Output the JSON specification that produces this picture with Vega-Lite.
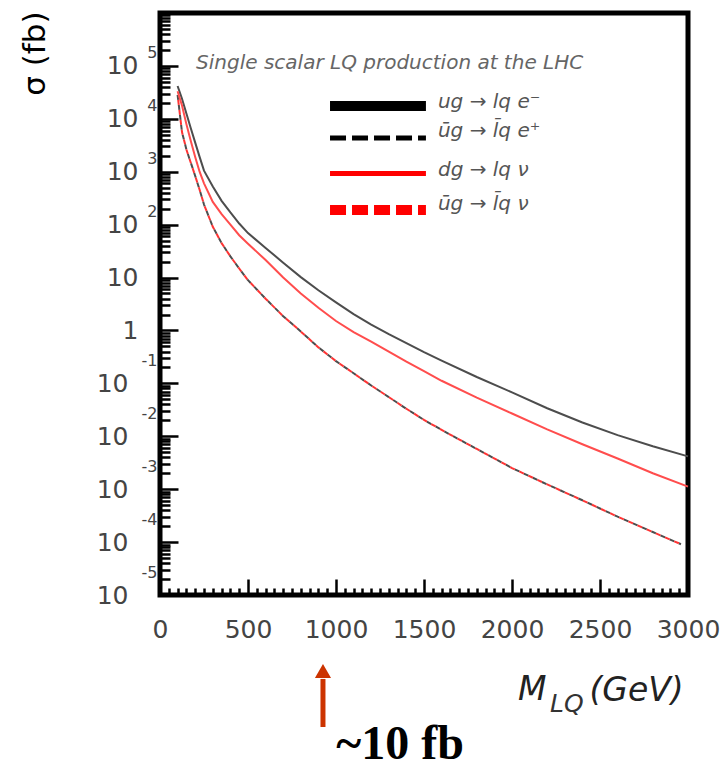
{
  "$schema": "https://vega.github.io/schema/vega-lite/v6.json",
  "width": 528,
  "height": 582,
  "autosize": {"type": "none"},
  "padding": {"left": 160, "top": 13, "right": 40, "bottom": 175},
  "background": "white",
  "config": {
    "font": "DejaVu Sans",
    "view": {"stroke": "black", "strokeWidth": 5},
    "axis": {
      "domain": false,
      "grid": false,
      "tickColor": "black",
      "tickWidth": 2.5,
      "labelFont": "DejaVu Sans",
      "labelFontSize": 25,
      "labelColor": "#444",
      "labelOverlap": false,
      "labelFlush": false,
      "labelBound": false
    }
  },
  "datasets": {
    "curves": [
      {"series": "bs", "mass": 100, "xsec": 41700},
      {"series": "bs", "mass": 125, "xsec": 24000},
      {"series": "bs", "mass": 150, "xsec": 12600},
      {"series": "bs", "mass": 175, "xsec": 6610},
      {"series": "bs", "mass": 200, "xsec": 3550},
      {"series": "bs", "mass": 225, "xsec": 1905},
      {"series": "bs", "mass": 250, "xsec": 1047},
      {"series": "bs", "mass": 300, "xsec": 525},
      {"series": "bs", "mass": 350, "xsec": 282},
      {"series": "bs", "mass": 400, "xsec": 170},
      {"series": "bs", "mass": 450, "xsec": 105},
      {"series": "bs", "mass": 500, "xsec": 69.2},
      {"series": "bs", "mass": 600, "xsec": 36.3},
      {"series": "bs", "mass": 700, "xsec": 19.1},
      {"series": "bs", "mass": 800, "xsec": 10.2},
      {"series": "bs", "mass": 900, "xsec": 5.75},
      {"series": "bs", "mass": 1000, "xsec": 3.39},
      {"series": "bs", "mass": 1100, "xsec": 2.04},
      {"series": "bs", "mass": 1200, "xsec": 1.29},
      {"series": "bs", "mass": 1300, "xsec": 0.851},
      {"series": "bs", "mass": 1400, "xsec": 0.575},
      {"series": "bs", "mass": 1500, "xsec": 0.389},
      {"series": "bs", "mass": 1600, "xsec": 0.269},
      {"series": "bs", "mass": 1800, "xsec": 0.132},
      {"series": "bs", "mass": 2000, "xsec": 0.0676},
      {"series": "bs", "mass": 2200, "xsec": 0.0339},
      {"series": "bs", "mass": 2400, "xsec": 0.0182},
      {"series": "bs", "mass": 2600, "xsec": 0.0105},
      {"series": "bs", "mass": 2800, "xsec": 0.00646},
      {"series": "bs", "mass": 3000, "xsec": 0.00417},

      {"series": "rs", "mass": 100, "xsec": 33100},
      {"series": "rs", "mass": 125, "xsec": 17800},
      {"series": "rs", "mass": 150, "xsec": 7940},
      {"series": "rs", "mass": 175, "xsec": 3800},
      {"series": "rs", "mass": 200, "xsec": 1905},
      {"series": "rs", "mass": 225, "xsec": 1000},
      {"series": "rs", "mass": 250, "xsec": 603},
      {"series": "rs", "mass": 300, "xsec": 269},
      {"series": "rs", "mass": 350, "xsec": 158},
      {"series": "rs", "mass": 400, "xsec": 100},
      {"series": "rs", "mass": 450, "xsec": 63.1},
      {"series": "rs", "mass": 500, "xsec": 43.7},
      {"series": "rs", "mass": 600, "xsec": 21.4},
      {"series": "rs", "mass": 700, "xsec": 10.0},
      {"series": "rs", "mass": 800, "xsec": 5.01},
      {"series": "rs", "mass": 900, "xsec": 2.69},
      {"series": "rs", "mass": 1000, "xsec": 1.51},
      {"series": "rs", "mass": 1100, "xsec": 0.933},
      {"series": "rs", "mass": 1200, "xsec": 0.617},
      {"series": "rs", "mass": 1300, "xsec": 0.398},
      {"series": "rs", "mass": 1400, "xsec": 0.257},
      {"series": "rs", "mass": 1500, "xsec": 0.170},
      {"series": "rs", "mass": 1600, "xsec": 0.112},
      {"series": "rs", "mass": 1800, "xsec": 0.0537},
      {"series": "rs", "mass": 2000, "xsec": 0.0269},
      {"series": "rs", "mass": 2200, "xsec": 0.0135},
      {"series": "rs", "mass": 2400, "xsec": 0.00708},
      {"series": "rs", "mass": 2600, "xsec": 0.00380},
      {"series": "rs", "mass": 2800, "xsec": 0.00200},
      {"series": "rs", "mass": 3000, "xsec": 0.00112},

      {"series": "bd", "mass": 100, "xsec": 28200},
      {"series": "bd", "mass": 125, "xsec": 5620},
      {"series": "bd", "mass": 150, "xsec": 2630},
      {"series": "bd", "mass": 175, "xsec": 1480},
      {"series": "bd", "mass": 200, "xsec": 832},
      {"series": "bd", "mass": 225, "xsec": 457},
      {"series": "bd", "mass": 250, "xsec": 240},
      {"series": "bd", "mass": 300, "xsec": 91.2},
      {"series": "bd", "mass": 350, "xsec": 44.7},
      {"series": "bd", "mass": 400, "xsec": 25.1},
      {"series": "bd", "mass": 450, "xsec": 14.8},
      {"series": "bd", "mass": 500, "xsec": 8.91},
      {"series": "bd", "mass": 600, "xsec": 3.98},
      {"series": "bd", "mass": 700, "xsec": 1.86},
      {"series": "bd", "mass": 800, "xsec": 0.955},
      {"series": "bd", "mass": 900, "xsec": 0.479},
      {"series": "bd", "mass": 1000, "xsec": 0.263},
      {"series": "bd", "mass": 1100, "xsec": 0.155},
      {"series": "bd", "mass": 1200, "xsec": 0.0912},
      {"series": "bd", "mass": 1300, "xsec": 0.0550},
      {"series": "bd", "mass": 1400, "xsec": 0.0331},
      {"series": "bd", "mass": 1500, "xsec": 0.0204},
      {"series": "bd", "mass": 1600, "xsec": 0.0132},
      {"series": "bd", "mass": 1800, "xsec": 0.00575},
      {"series": "bd", "mass": 2000, "xsec": 0.00251},
      {"series": "bd", "mass": 2200, "xsec": 0.00123},
      {"series": "bd", "mass": 2400, "xsec": 0.000617},
      {"series": "bd", "mass": 2600, "xsec": 0.000302},
      {"series": "bd", "mass": 2800, "xsec": 0.000155},
      {"series": "bd", "mass": 2960, "xsec": 0.0000912},

      {"series": "rd", "mass": 100, "xsec": 28200},
      {"series": "rd", "mass": 125, "xsec": 5620},
      {"series": "rd", "mass": 150, "xsec": 2630},
      {"series": "rd", "mass": 175, "xsec": 1480},
      {"series": "rd", "mass": 200, "xsec": 832},
      {"series": "rd", "mass": 225, "xsec": 457},
      {"series": "rd", "mass": 250, "xsec": 240},
      {"series": "rd", "mass": 300, "xsec": 91.2},
      {"series": "rd", "mass": 350, "xsec": 44.7},
      {"series": "rd", "mass": 400, "xsec": 25.1},
      {"series": "rd", "mass": 450, "xsec": 14.8},
      {"series": "rd", "mass": 500, "xsec": 8.91},
      {"series": "rd", "mass": 600, "xsec": 3.98},
      {"series": "rd", "mass": 700, "xsec": 1.86},
      {"series": "rd", "mass": 800, "xsec": 0.955},
      {"series": "rd", "mass": 900, "xsec": 0.479},
      {"series": "rd", "mass": 1000, "xsec": 0.263},
      {"series": "rd", "mass": 1100, "xsec": 0.155},
      {"series": "rd", "mass": 1200, "xsec": 0.0912},
      {"series": "rd", "mass": 1300, "xsec": 0.0550},
      {"series": "rd", "mass": 1400, "xsec": 0.0331},
      {"series": "rd", "mass": 1500, "xsec": 0.0204},
      {"series": "rd", "mass": 1600, "xsec": 0.0132},
      {"series": "rd", "mass": 1800, "xsec": 0.00575},
      {"series": "rd", "mass": 2000, "xsec": 0.00251},
      {"series": "rd", "mass": 2200, "xsec": 0.00123},
      {"series": "rd", "mass": 2400, "xsec": 0.000617},
      {"series": "rd", "mass": 2600, "xsec": 0.000302},
      {"series": "rd", "mass": 2800, "xsec": 0.000155},
      {"series": "rd", "mass": 2960, "xsec": 0.0000912}
    ],
    "legend": [
      {"series": "bs", "label": "ug → lq e⁻", "m0": 966, "m1": 1511, "yline": 17500, "ytext": 20800},
      {"series": "bd", "label": "ūg → l̄q e⁺", "m0": 966, "m1": 1511, "yline": 4340, "ytext": 5890},
      {"series": "rs", "label": "dg → lq ν", "m0": 966, "m1": 1511, "yline": 927, "ytext": 1079},
      {"series": "rd", "label": "ūg → l̄q ν", "m0": 966, "m1": 1511, "yline": 189, "ytext": 245}
    ],
    "notes": [
      {"kind": "header", "text": "Single scalar LQ production at the LHC", "mass": 205, "xsec": 113500},
      {"kind": "xtitle", "text": "M", "mass": 2034, "xsec": 1.6e-7},
      {"kind": "xtitle", "text": "(GeV)", "mass": 2440, "xsec": 1.53e-7},
      {"kind": "xsub", "text": "LQ", "mass": 2216, "xsec": 8.7e-8},
      {"kind": "lumi", "text": "~10 fb", "mass": 1364, "xsec": 1.45e-8}
    ],
    "arrow": [
      {"mass": 926, "tail": 3.2e-8, "head": 2.59e-7, "tip": 3.66e-7}
    ]
  },
  "resolve": {"axis": {"x": "independent", "y": "independent"}},
  "layer": [
    {
      "data": {"name": "curves"},
      "transform": [{"filter": "datum.series === 'bs'"}],
      "mark": {"type": "line", "color": "#4d4d4d", "strokeWidth": 2},
      "encoding": {
        "x": {
          "field": "mass", "type": "quantitative",
          "scale": {"domain": [0, 3000], "nice": false, "zero": false},
          "axis": {
            "orient": "bottom",
            "title": null,
            "values": [0,50,100,150,200,250,300,350,400,450,500,550,600,650,700,750,800,850,900,950,1000,1050,1100,1150,1200,1250,1300,1350,1400,1450,1500,1550,1600,1650,1700,1750,1800,1850,1900,1950,2000,2050,2100,2150,2200,2250,2300,2350,2400,2450,2500,2550,2600,2650,2700,2750,2800,2850,2900,2950,3000],
            "format": "d",
            "labelExpr": "datum.value % 500 === 0 ? datum.label : ''",
            "tickSize": {"condition": {"test": "datum.value % 500 === 0", "value": -16}, "value": -7},
            "labelPadding": 38
          }
        },
        "y": {
          "field": "xsec", "type": "quantitative",
          "scale": {"type": "log", "domain": [1e-5, 1e6], "nice": false},
          "axis": {
            "orient": "left",
            "title": "σ (fb)",
            "titleX": -125,
            "titleY": -2,
            "titleAngle": -90,
            "titleAlign": "right",
            "titleBaseline": "middle",
            "titleFont": "DejaVu Sans",
            "titleFontSize": 31,
            "titleFontWeight": "normal",
            "titleColor": "black",
            "values": [1e-5,2e-5,3e-5,4e-5,5e-5,6e-5,7e-5,8e-5,9e-5,1e-4,2e-4,3e-4,4e-4,5e-4,6e-4,7e-4,8e-4,9e-4,1e-3,2e-3,3e-3,4e-3,5e-3,6e-3,7e-3,8e-3,9e-3,0.01,0.02,0.03,0.04,0.05,0.06,0.07,0.08,0.09,0.1,0.2,0.3,0.4,0.5,0.6,0.7,0.8,0.9,1,2,3,4,5,6,7,8,9,10,20,30,40,50,60,70,80,90,100,200,300,400,500,600,700,800,900,1000,2000,3000,4000,5000,6000,7000,8000,9000,1e4,2e4,3e4,4e4,5e4,6e4,7e4,8e4,9e4,1e5,2e5,3e5,4e5,5e5,6e5,7e5,8e5,9e5,1e6],
            "labelExpr": "abs(log(datum.value)/LN10 - round(log(datum.value)/LN10)) < 0.01 ? (round(log(datum.value)/LN10) == 0 ? '1' : (round(log(datum.value)/LN10) > 5 ? '' : '10')) : ''",
            "tickSize": {"condition": {"test": "abs(log(datum.value)/LN10 - round(log(datum.value)/LN10)) < 0.01", "value": -18}, "value": -10},
            "labelPadding": {"condition": {"test": "datum.value < 0.5", "value": 50}, "value": 40}
          }
        }
      }
    },
    {
      "data": {"name": "curves"},
      "transform": [{"filter": "datum.series === 'bd'"}],
      "mark": {"type": "line", "color": "#4d4d4d", "strokeWidth": 2, "strokeDash": [5, 5]},
      "encoding": {
        "x": {"field": "mass", "type": "quantitative", "scale": {"domain": [0, 3000], "nice": false, "zero": false}, "axis": null},
        "y": {"field": "xsec", "type": "quantitative", "scale": {"type": "log", "domain": [1e-5, 1e6], "nice": false}, "axis": null}
      }
    },
    {
      "data": {"name": "curves"},
      "transform": [{"filter": "datum.series === 'rs'"}],
      "mark": {"type": "line", "color": "#ff4d4d", "strokeWidth": 2},
      "encoding": {
        "x": {"field": "mass", "type": "quantitative", "scale": {"domain": [0, 3000], "nice": false, "zero": false}, "axis": null},
        "y": {"field": "xsec", "type": "quantitative", "scale": {"type": "log", "domain": [1e-5, 1e6], "nice": false}, "axis": null}
      }
    },
    {
      "data": {"name": "curves"},
      "transform": [{"filter": "datum.series === 'rd'"}],
      "mark": {"type": "line", "color": "#ff3333", "strokeWidth": 2, "strokeDash": [5, 5], "strokeDashOffset": 5},
      "encoding": {
        "x": {"field": "mass", "type": "quantitative", "scale": {"domain": [0, 3000], "nice": false, "zero": false}, "axis": null},
        "y": {
          "field": "xsec", "type": "quantitative",
          "scale": {"type": "log", "domain": [1e-5, 1e6], "nice": false},
          "axis": {
            "orient": "left",
            "title": null,
            "values": [1e-5, 1e-4, 1e-3, 0.01, 0.1, 100, 1000, 1e4, 1e5],
            "labelExpr": "'' + round(log(datum.value)/LN10)",
            "ticks": false,
            "labelPadding": 3,
            "labelOffset": {"condition": {"test": "datum.value < 0.5", "value": -23}, "value": -13},
            "labelFontSize": 16
          }
        }
      }
    },
    {
      "data": {"name": "legend"},
      "transform": [{"filter": "datum.series === 'bs'"}],
      "mark": {"type": "rule", "color": "black", "strokeWidth": 10},
      "encoding": {
        "x": {"field": "m0", "type": "quantitative", "scale": {"domain": [0, 3000], "nice": false, "zero": false}, "axis": null},
        "x2": {"field": "m1"},
        "y": {"field": "yline", "type": "quantitative", "scale": {"type": "log", "domain": [1e-5, 1e6], "nice": false}, "axis": null}
      }
    },
    {
      "data": {"name": "legend"},
      "transform": [{"filter": "datum.series === 'bd'"}],
      "mark": {"type": "rule", "color": "black", "strokeWidth": 5, "strokeDash": [16, 6]},
      "encoding": {
        "x": {"field": "m0", "type": "quantitative", "scale": {"domain": [0, 3000], "nice": false, "zero": false}, "axis": null},
        "x2": {"field": "m1"},
        "y": {"field": "yline", "type": "quantitative", "scale": {"type": "log", "domain": [1e-5, 1e6], "nice": false}, "axis": null}
      }
    },
    {
      "data": {"name": "legend"},
      "transform": [{"filter": "datum.series === 'rs'"}],
      "mark": {"type": "rule", "color": "#ff0000", "strokeWidth": 5},
      "encoding": {
        "x": {"field": "m0", "type": "quantitative", "scale": {"domain": [0, 3000], "nice": false, "zero": false}, "axis": null},
        "x2": {"field": "m1"},
        "y": {"field": "yline", "type": "quantitative", "scale": {"type": "log", "domain": [1e-5, 1e6], "nice": false}, "axis": null}
      }
    },
    {
      "data": {"name": "legend"},
      "transform": [{"filter": "datum.series === 'rd'"}],
      "mark": {"type": "rule", "color": "#ff0000", "strokeWidth": 10, "strokeDash": [16, 6]},
      "encoding": {
        "x": {"field": "m0", "type": "quantitative", "scale": {"domain": [0, 3000], "nice": false, "zero": false}, "axis": null},
        "x2": {"field": "m1"},
        "y": {"field": "yline", "type": "quantitative", "scale": {"type": "log", "domain": [1e-5, 1e6], "nice": false}, "axis": null}
      }
    },
    {
      "data": {"name": "legend"},
      "mark": {"type": "text", "align": "left", "baseline": "middle", "dx": 12, "font": "DejaVu Sans", "fontStyle": "italic", "fontSize": 20, "color": "#555"},
      "encoding": {
        "x": {"field": "m1", "type": "quantitative", "scale": {"domain": [0, 3000], "nice": false, "zero": false}, "axis": null},
        "y": {"field": "ytext", "type": "quantitative", "scale": {"type": "log", "domain": [1e-5, 1e6], "nice": false}, "axis": null},
        "text": {"field": "label"}
      }
    },
    {
      "data": {"name": "notes"},
      "transform": [{"filter": "datum.kind === 'header'"}],
      "mark": {"type": "text", "align": "left", "baseline": "middle", "font": "DejaVu Sans", "fontStyle": "italic", "fontSize": 20, "color": "#666"},
      "encoding": {
        "x": {"field": "mass", "type": "quantitative", "scale": {"domain": [0, 3000], "nice": false, "zero": false}, "axis": null},
        "y": {"field": "xsec", "type": "quantitative", "scale": {"type": "log", "domain": [1e-5, 1e6], "nice": false}, "axis": null},
        "text": {"field": "text"}
      }
    },
    {
      "data": {"name": "notes"},
      "transform": [{"filter": "datum.kind === 'xtitle'"}],
      "mark": {"type": "text", "align": "left", "baseline": "middle", "font": "DejaVu Sans", "fontStyle": "italic", "fontSize": 33, "color": "#222"},
      "encoding": {
        "x": {"field": "mass", "type": "quantitative", "scale": {"domain": [0, 3000], "nice": false, "zero": false}, "axis": null},
        "y": {"field": "xsec", "type": "quantitative", "scale": {"type": "log", "domain": [1e-5, 1e6], "nice": false}, "axis": null},
        "text": {"field": "text"}
      }
    },
    {
      "data": {"name": "notes"},
      "transform": [{"filter": "datum.kind === 'xsub'"}],
      "mark": {"type": "text", "align": "left", "baseline": "middle", "font": "DejaVu Sans", "fontStyle": "italic", "fontSize": 25, "color": "#333"},
      "encoding": {
        "x": {"field": "mass", "type": "quantitative", "scale": {"domain": [0, 3000], "nice": false, "zero": false}, "axis": null},
        "y": {"field": "xsec", "type": "quantitative", "scale": {"type": "log", "domain": [1e-5, 1e6], "nice": false}, "axis": null},
        "text": {"field": "text"}
      }
    },
    {
      "data": {"name": "arrow"},
      "mark": {"type": "rule", "color": "#cc3300", "strokeWidth": 5},
      "encoding": {
        "x": {"field": "mass", "type": "quantitative", "scale": {"domain": [0, 3000], "nice": false, "zero": false}, "axis": null},
        "y": {"field": "tail", "type": "quantitative", "scale": {"type": "log", "domain": [1e-5, 1e6], "nice": false}, "axis": null},
        "y2": {"field": "head"}
      }
    },
    {
      "data": {"name": "arrow"},
      "mark": {"type": "point", "shape": "triangle-up", "filled": true, "color": "#cc3300", "size": 260, "opacity": 1},
      "encoding": {
        "x": {"field": "mass", "type": "quantitative", "scale": {"domain": [0, 3000], "nice": false, "zero": false}, "axis": null},
        "y": {"field": "tip", "type": "quantitative", "scale": {"type": "log", "domain": [1e-5, 1e6], "nice": false}, "axis": null}
      }
    },
    {
      "data": {"name": "notes"},
      "transform": [{"filter": "datum.kind === 'lumi'"}],
      "mark": {"type": "text", "align": "center", "baseline": "middle", "font": "Liberation Serif", "fontWeight": "bold", "fontSize": 48, "color": "black"},
      "encoding": {
        "x": {"field": "mass", "type": "quantitative", "scale": {"domain": [0, 3000], "nice": false, "zero": false}, "axis": null},
        "y": {"field": "xsec", "type": "quantitative", "scale": {"type": "log", "domain": [1e-5, 1e6], "nice": false}, "axis": null},
        "text": {"field": "text"}
      }
    }
  ]
}
